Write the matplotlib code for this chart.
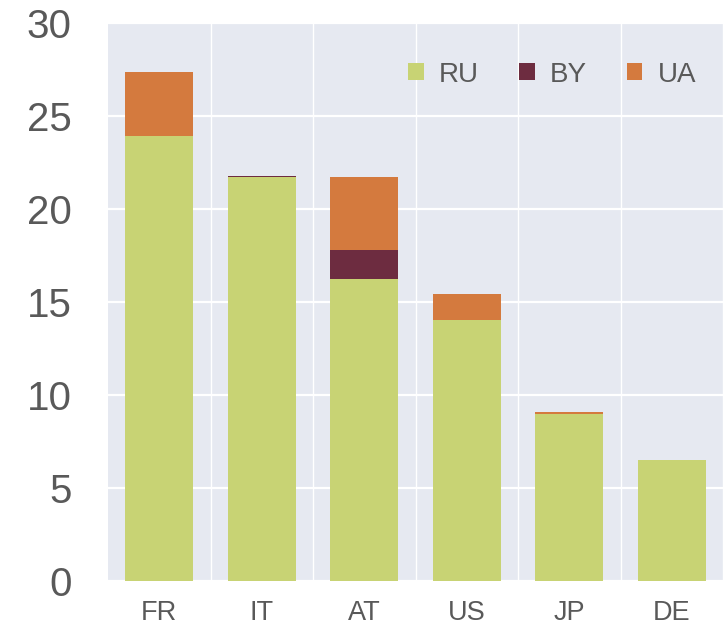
import matplotlib
matplotlib.use("Agg")
import matplotlib.pyplot as plt
import numpy as np
from matplotlib.patches import Patch

# data
countries = ["FR", "IT", "AT", "US", "JP", "DE"]
ru = [23.9, 21.7, 16.2, 14.0, 8.95, 6.5]
by = [0.0, 0.08, 1.6, 0.0, 0.0, 0.0]
ua = [3.45, 0.0, 3.9, 1.4, 0.12, 0.0]
series_names = ["RU", "BY", "UA"]
yticks = [0, 5, 10, 15, 20, 25, 30]

colors = {"RU": "#c8d374", "BY": "#6d2c40", "UA": "#d47a3e"}
bg = "#e6e9f1"
txt = "#595959"

plt.rcParams['font.family'] = ['Liberation Sans', 'DejaVu Sans']

fig = plt.figure(figsize=(7.23, 6.26), dpi=100)
ax = fig.add_axes([108/723, 1 - 580.7/626, 1 - 108/723, (580.7 - 22.7)/626])
ax.set_facecolor(bg)

x = np.arange(len(countries))
w = 0.66
ru_a = np.array(ru)
by_a = np.array(by)
ua_a = np.array(ua)
ax.bar(x, ru_a, w, color=colors["RU"], edgecolor="none", zorder=3)
ax.bar(x, by_a, w, bottom=ru_a, color=colors["BY"], edgecolor="none", zorder=3)
ax.bar(x, ua_a, w, bottom=ru_a + by_a, color=colors["UA"], edgecolor="none", zorder=3)

ax.set_xlim(-0.5, len(countries) - 0.5)
ax.set_ylim(0, 30)
ax.set_yticks(yticks)
ax.set_xticks(x)
ax.set_xticklabels(countries)
ax.set_xticks(np.arange(len(countries)) + 0.5, minor=True)

ax.grid(True, axis="y", which="major", color="white", linewidth=1.6, zorder=0)
ax.grid(True, axis="x", which="minor", color="white", linewidth=1.0, zorder=0)
ax.set_axisbelow(True)

for s in ax.spines.values():
  s.set_visible(False)
ax.tick_params(axis="y", length=0, pad=26, labelsize=29, labelcolor=txt)
ax.tick_params(axis="x", which="major", length=0, pad=14, labelsize=19.5, labelcolor=txt)
ax.tick_params(axis="x", which="minor", length=0)

handles = [Patch(facecolor=colors[n], edgecolor="none", label=n) for n in series_names]
leg = ax.legend(handles=handles, loc="upper right", ncol=3, frameon=False,
                fontsize=20, handlelength=0.55, handleheight=0.55,
                handletextpad=0.55, columnspacing=1.45,
                bbox_to_anchor=(0.997, 0.975))
for t in leg.get_texts():
  t.set_color(txt)

fig.savefig("out.png", dpi=100)
